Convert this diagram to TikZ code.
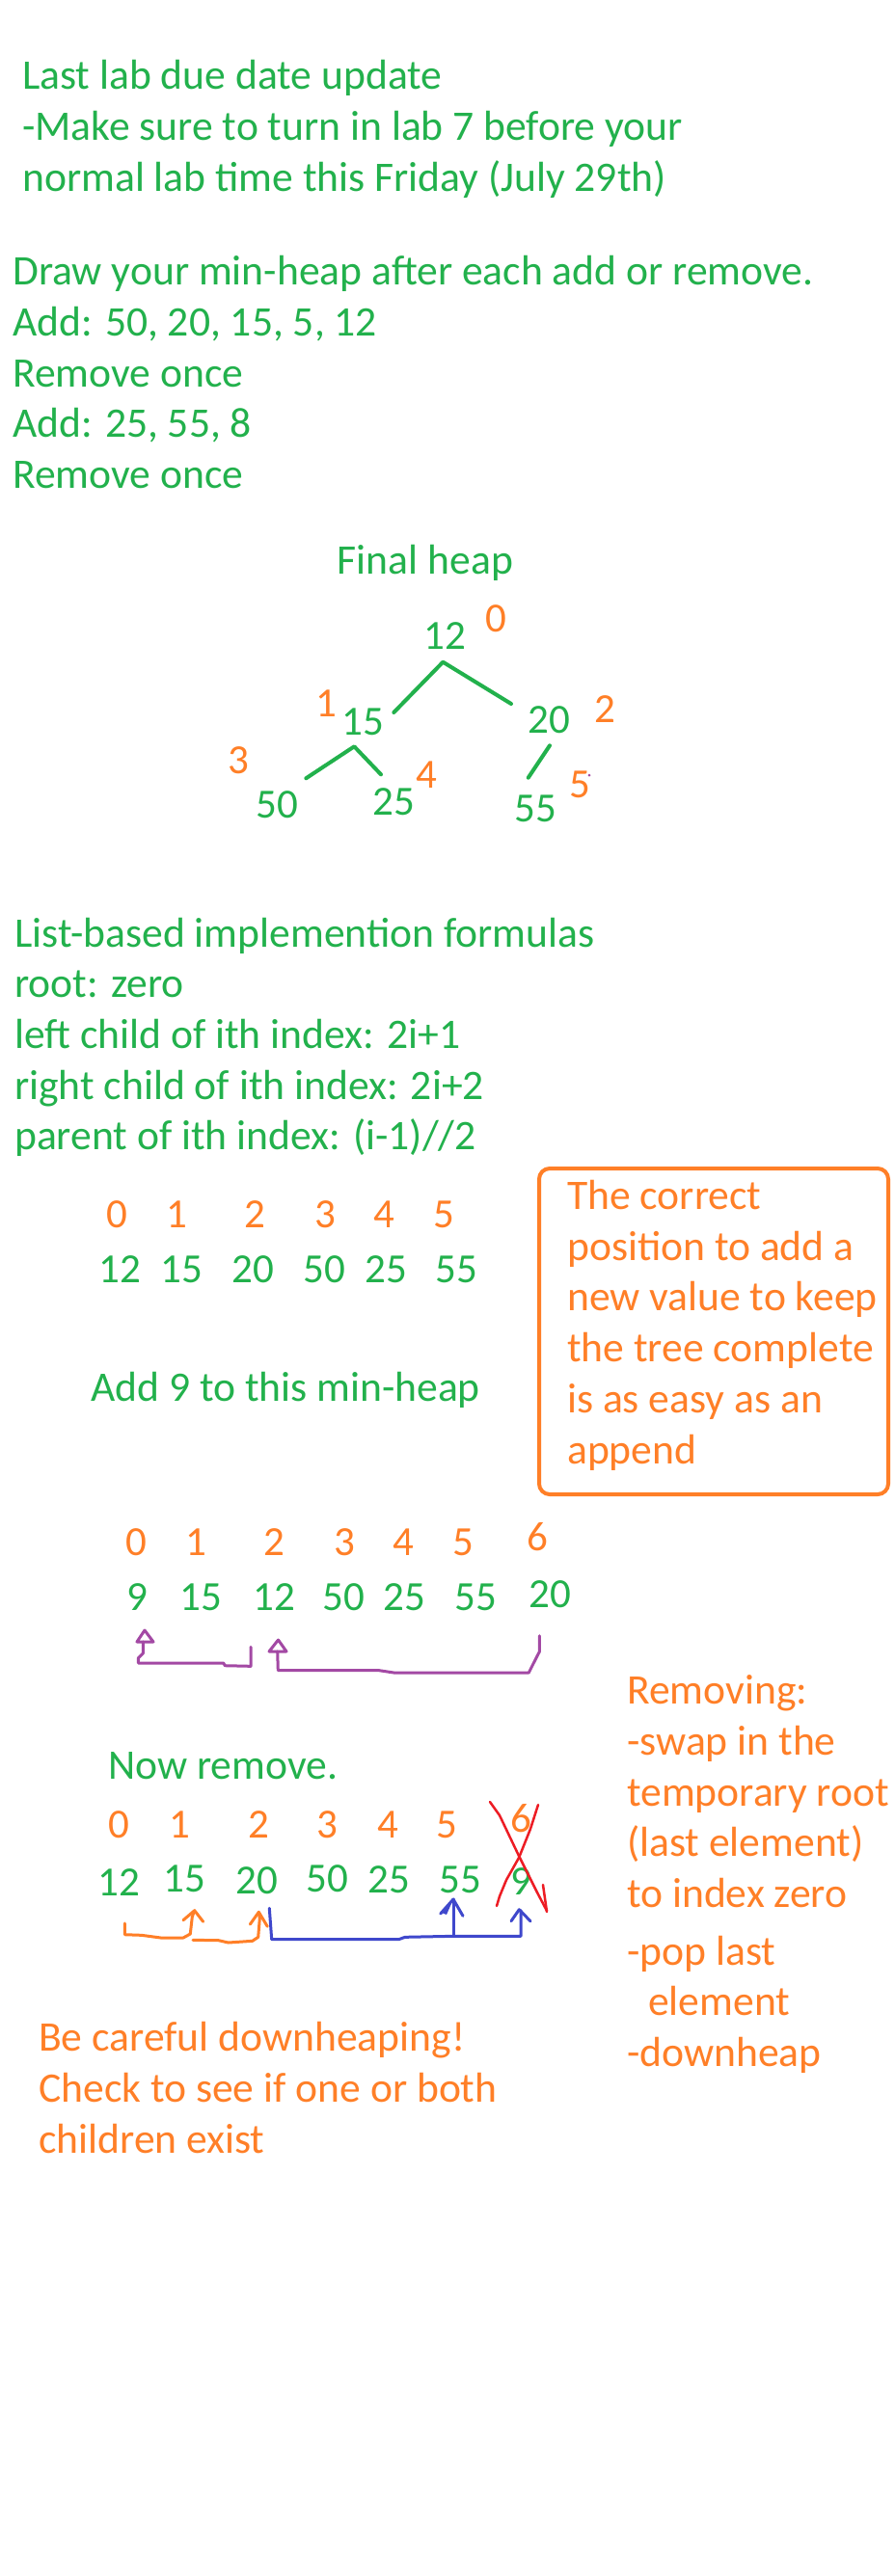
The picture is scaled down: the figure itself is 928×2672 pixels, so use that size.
\documentclass[tikz,border=0pt]{standalone}
\usepackage{fontspec}
\setmainfont{Carlito}
\definecolor{pgreen}{HTML}{22B14C}
\definecolor{porange}{HTML}{FF7F27}
\definecolor{ppurple}{HTML}{A349A4}
\definecolor{pblue}{HTML}{3F48CC}
\definecolor{pred}{HTML}{ED1C24}
\begin{document}
\begin{tikzpicture}[x=1pt,y=-1pt,
  txt/.style={anchor=base west, inner sep=0pt, text=pgreen, font=\fontsize{43.6}{53}\selectfont},
  otxt/.style={txt, text=porange},
  dig/.style={anchor=base, inner sep=0pt, text=pgreen, font=\fontsize{43}{50}\selectfont},
  odig/.style={dig, text=porange},
  treeline/.style={draw=pgreen, line width=4pt, line cap=round, line join=round},
  pen/.style={line width=3pt, line cap=round, line join=round},
  boxstyle/.style={draw=porange, line width=4pt, rounded corners=11pt}]
\fill[white] (0,0) rectangle (928,2672);
\useasboundingbox (0,0) rectangle (928,2672);

% top notes
\node[txt] (l1) at (23,92) {Last lab due date update};
\node[txt] (l2) at (23,145) {-Make sure to turn in lab 7 before your};
\node[txt] (l3) at (23,198) {normal lab time this Friday (July 29th)};
\node[txt] (d1) at (13,295) {Draw your min-heap after each add or remove.};
\node[txt] (d2) at (13,348) {Add: 50, 20, 15, 5, 12};
\node[txt] (d3) at (13,401) {Remove once};
\node[txt] (d4) at (13,453) {Add: 25, 55, 8};
\node[txt] (d5) at (13,506) {Remove once};

% final heap
\node[txt, anchor=base] (fh) at (441,595) {Final heap};
\node[dig] (n12) at (461,673) {12};
\node[odig] (i0) at (514,655) {0};
\node[dig] (n15) at (376,762) {15};
\node[odig] (i1) at (338,743) {1};
\node[dig] (n20) at (569,760) {20};
\node[odig] (i2) at (627,749) {2};
\node[odig] (i3) at (247,802) {3};
\node[dig] (n50) at (287,848) {50};
\node[dig] (n25) at (408,845) {25};
\node[odig] (i4) at (442,817) {4};
\node[dig] (n55) at (555,852) {55};
\node[odig] (i5) at (601,827) {5};
\fill[ppurple] (611,804) circle (1.5);

\coordinate (a12) at (459.3,686.7);
\coordinate (e15) at (408.3,739);
\coordinate (e20) at (530,730);
\coordinate (a15) at (367.3,774.3);
\coordinate (e50) at (317.3,807.3);
\coordinate (e25) at (395,803.3);
\coordinate (a20) at (570,773.3);
\coordinate (e55) at (547.7,806.7);
\draw[treeline] (e15) -- (a12) -- (e20);
\draw[treeline] (e50) -- (a15) -- (e25);
\draw[treeline] (a20) -- (e55);

% formulas
\node[txt] (f1) at (15,982) {List-based implemention formulas};
\node[txt] (f2) at (15,1034) {root: zero};
\node[txt] (f3) at (15,1087) {left child of ith index: 2i+1};
\node[txt] (f4) at (15,1140) {right child of ith index: 2i+2};
\node[txt] (f5) at (15,1192) {parent of ith index: (i-1)//2};

% array 1
\node[odig] (ai0) at (121,1273) {0};
\node[odig] (ai1) at (183,1273) {1};
\node[odig] (ai2) at (264,1273) {2};
\node[odig] (ai3) at (337,1273) {3};
\node[odig] (ai4) at (398,1273) {4};
\node[odig] (ai5) at (460,1273) {5};
\node[dig] (av0) at (124,1330) {12};
\node[dig] (av1) at (188,1330) {15};
\node[dig] (av2) at (262,1330) {20};
\node[dig] (av3) at (336,1330) {50};
\node[dig] (av4) at (400,1330) {25};
\node[dig] (av5) at (473,1330) {55};
\node[txt] (add9) at (94,1453) {Add 9 to this min-heap};

% box
\draw[boxstyle] (559,1212) rectangle (921,1550);
\node[otxt] (b1) at (588,1254) {The correct};
\node[otxt] (b2) at (588,1307) {position to add a};
\node[otxt] (b3) at (588,1359) {new value to keep};
\node[otxt] (b4) at (588,1412) {the tree complete};
\node[otxt] (b5) at (588,1465) {is as easy as an};
\node[otxt] (b6) at (588,1518) {append};

% array 2
\node[odig] (bi0) at (141,1613) {0};
\node[odig] (bi1) at (203,1613) {1};
\node[odig] (bi2) at (284,1613) {2};
\node[odig] (bi3) at (357,1613) {3};
\node[odig] (bi4) at (418,1613) {4};
\node[odig] (bi5) at (480,1613) {5};
\node[odig] (bi6) at (557,1608) {6};
\node[dig] (bv0) at (142,1670) {9};
\node[dig] (bv1) at (208,1670) {15};
\node[dig] (bv2) at (284,1670) {12};
\node[dig] (bv3) at (356,1670) {50};
\node[dig] (bv4) at (419,1670) {25};
\node[dig] (bv5) at (493,1670) {55};
\node[dig] (bv6) at (570,1667) {20};

\draw[pen, ppurple] (260,1708.3) -- (260,1728.3) -- (233.3,1727.7) -- (231.7,1725) -- (143.3,1725) -- (143.3,1720) -- (148.3,1715) -- (148.3,1703);
\draw[pen, ppurple] (150,1691) -- (142,1703) -- (159,1703) -- cycle;
\draw[pen, ppurple] (559.3,1696.7) -- (559.3,1713.3) -- (553.3,1725) -- (548.3,1735) -- (408.3,1735) -- (393.3,1732.7) -- (288.3,1732.7) -- (287.7,1713);
\draw[pen, ppurple] (288.5,1701) -- (279,1713) -- (297,1713) -- cycle;

% remove
\node[txt] (nr) at (112,1845) {Now remove.};
\node[odig] (ci0) at (123,1906) {0};
\node[odig] (ci1) at (186,1906) {1};
\node[odig] (ci2) at (268,1906) {2};
\node[odig] (ci3) at (339,1906) {3};
\node[odig] (ci4) at (402,1906) {4};
\node[odig] (ci5) at (463,1906) {5};
\node[odig] (ci6) at (540,1900) {6};
\node[dig] (cv0) at (123,1966) {12};
\node[dig] (cv1) at (191,1962) {15};
\node[dig] (cv2) at (266,1964) {20};
\node[dig] (cv3) at (339,1962) {50};
\node[dig] (cv4) at (403,1963) {25};
\node[dig] (cv5) at (477,1963) {55};
\node[dig] (cv6) at (540,1965) {9};

% red cross
\draw[pred, line width=2.5pt, line cap=round, line join=round] (508,1869) -- (518,1883) -- (538,1925) -- (557,1963) -- (567,1982);
\draw[pred, line width=2.5pt, line cap=round] (563,1955) -- (567,1983);
\draw[pred, line width=2.5pt, line cap=round, line join=round] (558,1872) -- (550,1897) -- (538,1927) -- (525,1950) -- (518,1967) -- (515,1977);

% orange arrows
\draw[pen, porange] (129.3,1995) -- (129.3,2006.7) -- (146.7,2007.3) -- (166.7,2010) -- (190,2010) -- (197.3,2006) -- (199.3,1988.3) -- (201.7,1981.7);
\draw[pen, porange] (190,1991.7) -- (201.7,1981.7) -- (210.7,1993.3);
\draw[pen, porange] (200,2012.3) -- (226.7,2012.7) -- (236.7,2015) -- (261.7,2013.3) -- (267.7,2009.3) -- (269.3,1990) -- (268.3,1983.3);
\draw[pen, porange] (259.3,1996) -- (268.3,1983.3) -- (277.3,1998.3);

% blue arrows
\draw[pen, pblue] (279.3,1979.3) -- (281.7,2011.7) -- (413.3,2011.7) -- (420,2009.3) -- (470,2008.3) -- (540,2008.3) -- (540,1981.7);
\draw[pen, pblue] (530,1992.7) -- (538.3,1980.7) -- (550,1992.7);
\draw[pen, pblue] (470,2008.3) -- (470,1970);
\draw[pen, pblue] (456.7,1985) -- (470,1970) -- (480,1987.3);
\fill[pblue] (458,1984) -- (470,1970) -- (463,1986) -- cycle;

% removing notes
\node[otxt] (r1) at (650,1767) {Removing:};
\node[otxt] (r2) at (650,1820) {-swap in the};
\node[otxt] (r3) at (650,1873) {temporary root};
\node[otxt] (r4) at (650,1925) {(last element)};
\node[otxt] (r5) at (650,1978) {to index zero};
\node[otxt] (r6) at (650,2038) {-pop last};
\node[otxt] (r7) at (672,2090) {element};
\node[otxt] (r8) at (650,2143) {-downheap};

\node[otxt] (c1) at (40,2127) {Be careful downheaping!};
\node[otxt] (c2) at (40,2180) {Check to see if one or both};
\node[otxt] (c3) at (40,2233) {children exist};
\end{tikzpicture}
\end{document}
